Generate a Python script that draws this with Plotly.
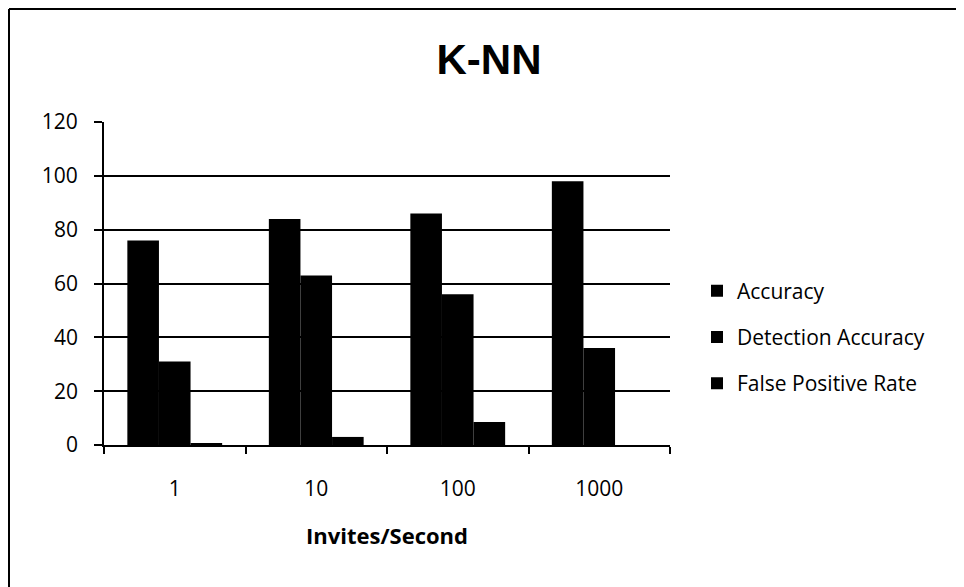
import plotly.graph_objects as go

categories = ["1", "10", "100", "1000"]
accuracy = [76, 84, 86, 98]
detection_accuracy = [31, 63, 56, 36]
false_positive_rate = [0.4, 3, 8.5, 0]
y_ticks = [0, 20, 40, 60, 80, 100, 120]

FONT = "Open Sans, Lato, sans-serif"
TITLE_FONT = "Liberation Sans Narrow, Arial Narrow, sans-serif"

W, H = 964, 587
L, R, T, B = 96, 302, 114, 150
PW, PH = W - L - R, H - T - B

fig = go.Figure()
for i, (name, vals) in enumerate([
    ("Accuracy", accuracy),
    ("Detection Accuracy", detection_accuracy),
    ("False Positive Rate", false_positive_rate),
]):
    fig.add_trace(go.Bar(x=categories, y=vals, name=name,
                         marker=dict(color="black", line=dict(width=0)),
                         legendgroup=f"g{i}"))

fig.update_layout(
    width=W, height=H,
    paper_bgcolor="white", plot_bgcolor="white",
    margin=dict(l=L, r=R, t=T, b=B),
    barmode="group", bargap=0.33, bargroupgap=0,
    font=dict(family=FONT, size=21, color="black"),
    title=dict(text="<b>K-NN</b>", x=481 / W, xanchor="center", xref="container",
               y=1 - 51 / H, yanchor="middle", yref="container",
               font=dict(family=TITLE_FONT, size=42, color="black")),
    showlegend=True,
    legend=dict(x=(689 - L) / PW, xref="paper", xanchor="left",
                y=(T + PH - 329) / PH, yanchor="middle",
                font=dict(family=FONT, size=21, color="black"),
                tracegroupgap=16, itemwidth=30),
    xaxis=dict(type="category", showgrid=False, showline=True,
               linecolor="black", linewidth=1.8,
               ticks="outside", tickson="boundaries", ticklen=7,
               tickcolor="black", tickwidth=1.8,
               ticklabelstandoff=24,
               tickfont=dict(size=21),
               title=dict(text="<b>Invites/Second</b>", standoff=28,
                          font=dict(family=FONT, size=22))),
    yaxis=dict(range=[0, 120], tickvals=y_ticks, showgrid=True,
               gridcolor="black", gridwidth=1.8, zeroline=False,
               showline=True, linecolor="black", linewidth=1.8,
               ticks="outside", ticklen=8, tickcolor="black", tickwidth=1.8,
               ticklabelstandoff=12,
               tickfont=dict(size=21)),
)

# chart frame (left and top edges visible)
fx = (1 - L) / PW
fy = 1 + (T - 1) / PH
fig.add_shape(type="line", xref="paper", yref="paper",
              x0=fx, x1=fx, y0=-B / PH, y1=fy,
              line=dict(color="black", width=2))
fig.add_shape(type="line", xref="paper", yref="paper",
              x0=fx, x1=1 + R / PW, y0=fy, y1=fy,
              line=dict(color="black", width=2))

fig.write_html("out.html")
